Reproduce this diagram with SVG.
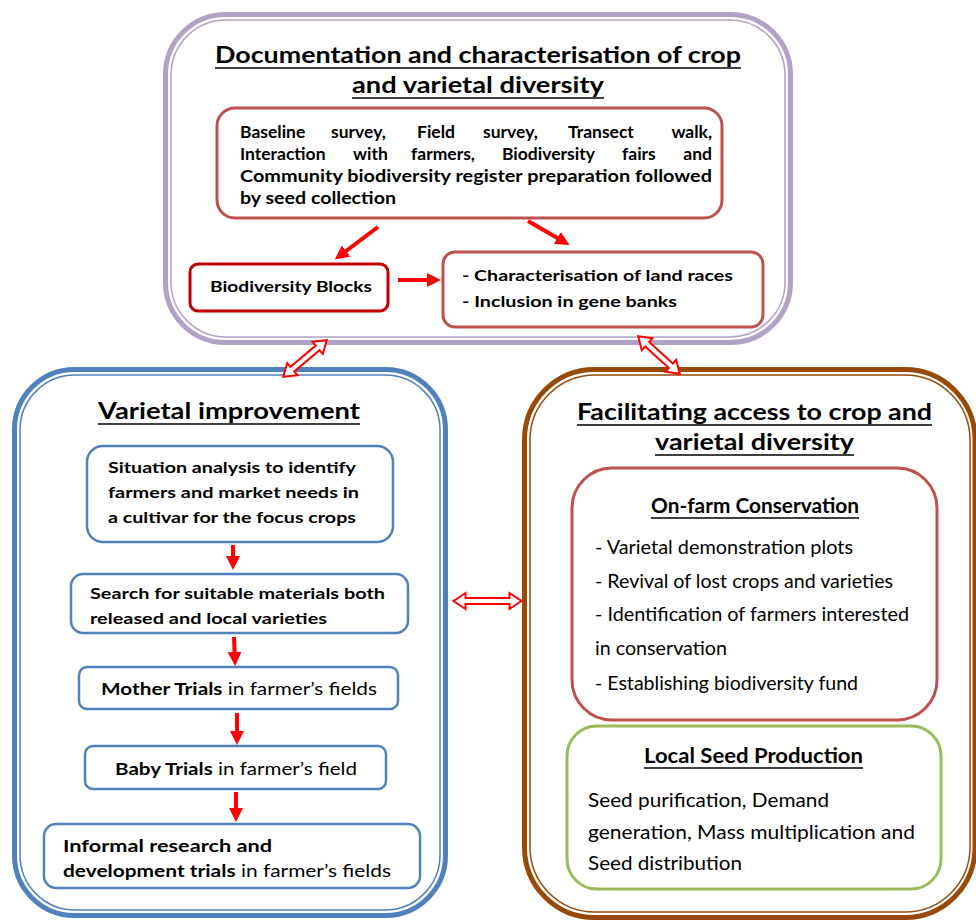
<svg xmlns="http://www.w3.org/2000/svg" width="976" height="921" viewBox="0 0 976 921">
<style>
text{font-family:Lato,"Open Sans","Liberation Sans",sans-serif;fill:#000}
.b{font-weight:bold}
.t{font-weight:bold;font-size:23px}
.s{font-size:16px;font-weight:bold}
.j{font-size:17.5px;font-weight:bold}
.r{font-size:20px}
.ul{stroke:#000;stroke-width:1.6}
.box{fill:#fff}
.arr{stroke:#ff0000;stroke-width:4;fill:none;marker-end:url(#ah)}
.dbl{fill:#fff;stroke:#ff0000;stroke-width:2;stroke-linejoin:miter}
</style>
<defs>
<marker id="ah" markerUnits="userSpaceOnUse" markerWidth="14" markerHeight="14" viewBox="0 0 14 14" refX="10" refY="7" orient="auto">
<path d="M0,0 L14,7 L0,14 Z" fill="#ff0000"/>
</marker>
</defs>
<rect width="976" height="921" fill="#fff"/>

<g id="top-panel">
<rect x="165.5" y="14.5" width="625" height="328" rx="60" fill="#fff" stroke="#b3a2c7" stroke-width="5"/>
<rect x="171" y="20" width="614" height="317" rx="55" fill="none" stroke="#b3a2c7" stroke-width="1.5"/>
<text class="t" x="215" y="63" textLength="526" lengthAdjust="spacingAndGlyphs">Documentation and characterisation of crop</text>
<line class="ul" x1="215" y1="68" x2="741" y2="68"/>
<text class="t" x="352" y="93" textLength="252" lengthAdjust="spacingAndGlyphs">and varietal diversity</text>
<line class="ul" x1="352" y1="98" x2="604" y2="98"/>
</g>

<g id="survey-box">
<rect class="box" x="217" y="108" width="505" height="110" rx="18" stroke="#c0504d" stroke-width="3"/>
<text class="j" y="138"><tspan x="240">Baseline</tspan><tspan x="331">survey,</tspan><tspan x="417">Field</tspan><tspan x="483">survey,</tspan><tspan x="568">Transect</tspan><tspan x="712" text-anchor="end">walk,</tspan></text>
<text class="j" y="160"><tspan x="240">Interaction</tspan><tspan x="353">with</tspan><tspan x="411">farmers,</tspan><tspan x="502">Biodiversity</tspan><tspan x="622">fairs</tspan><tspan x="712" text-anchor="end">and</tspan></text>
<text class="j" x="240" y="182" textLength="472" lengthAdjust="spacingAndGlyphs">Community biodiversity register preparation followed</text>
<text class="j" x="240" y="204" textLength="156" lengthAdjust="spacingAndGlyphs">by seed collection</text>
</g>

<g id="biodiversity-blocks">
<rect class="box" x="190" y="264" width="198" height="47" rx="8" stroke="#c00000" stroke-width="3"/>
<text class="s" x="210" y="292" textLength="162" lengthAdjust="spacingAndGlyphs">Biodiversity Blocks</text>
</g>

<g id="characterisation">
<rect class="box" x="443" y="252" width="320" height="75" rx="12" stroke="#c0504d" stroke-width="3"/>
<text class="s" x="462" y="281" textLength="271" lengthAdjust="spacingAndGlyphs">- Characterisation of land races</text>
<text class="s" x="462" y="307" textLength="215" lengthAdjust="spacingAndGlyphs">- Inclusion in gene banks</text>
</g>

<g id="left-panel">
<rect x="14.5" y="369.5" width="431" height="546" rx="60" fill="#fff" stroke="#4f81bd" stroke-width="5"/>
<rect x="20" y="375" width="420" height="535" rx="55" fill="none" stroke="#4f81bd" stroke-width="1.5"/>
<text class="b" font-size="22" x="98" y="419" textLength="262" lengthAdjust="spacingAndGlyphs">Varietal improvement</text>
<line class="ul" x1="98" y1="424" x2="360" y2="424"/>
</g>

<g id="situation">
<rect class="box" x="87" y="446" width="306" height="96" rx="16" stroke="#4f81bd" stroke-width="2.5"/>
<text class="s" font-size="17" x="108" y="473" textLength="248" lengthAdjust="spacingAndGlyphs">Situation analysis to identify</text>
<text class="s" font-size="17" x="108" y="498" textLength="251" lengthAdjust="spacingAndGlyphs">farmers and market needs in</text>
<text class="s" font-size="17" x="108" y="523" textLength="248" lengthAdjust="spacingAndGlyphs">a cultivar for the focus crops</text>
</g>

<g id="search">
<rect class="box" x="71" y="574" width="337" height="59" rx="12" stroke="#4f81bd" stroke-width="2.5"/>
<text class="s" font-size="17" x="90" y="599" textLength="295" lengthAdjust="spacingAndGlyphs">Search for suitable materials both</text>
<text class="s" font-size="17" x="90" y="624" textLength="237" lengthAdjust="spacingAndGlyphs">released and local varieties</text>
</g>

<g id="mother-trials">
<rect class="box" x="79" y="667" width="319" height="42" rx="8" stroke="#4f81bd" stroke-width="2.5"/>
<text font-size="17" x="101" y="695" textLength="276" lengthAdjust="spacingAndGlyphs"><tspan class="b">Mother Trials</tspan> in farmer’s fields</text>
</g>

<g id="baby-trials">
<rect class="box" x="85" y="746" width="301" height="43" rx="8" stroke="#4f81bd" stroke-width="2.5"/>
<text font-size="17" x="115" y="775" textLength="242" lengthAdjust="spacingAndGlyphs"><tspan class="b">Baby Trials</tspan> in farmer’s field</text>
</g>

<g id="informal-trials">
<rect class="box" x="44" y="824" width="376" height="64" rx="12" stroke="#4f81bd" stroke-width="2.5"/>
<text class="b" font-size="17" x="63" y="852" textLength="209" lengthAdjust="spacingAndGlyphs">Informal research and</text>
<text font-size="17" x="63" y="877" textLength="328" lengthAdjust="spacingAndGlyphs"><tspan class="b">development trials</tspan> in farmer’s fields</text>
</g>

<g id="right-panel">
<rect x="524.5" y="369.5" width="450.5" height="548" rx="70" fill="#fff" stroke="#984807" stroke-width="5"/>
<rect x="530" y="375" width="440" height="537" rx="65" fill="none" stroke="#984807" stroke-width="1.5"/>
<text class="b" font-size="22" x="577" y="420" textLength="355" lengthAdjust="spacingAndGlyphs">Facilitating access to crop and</text>
<line class="ul" x1="577" y1="425" x2="932" y2="425"/>
<text class="b" font-size="22" x="655" y="450" textLength="199" lengthAdjust="spacingAndGlyphs">varietal diversity</text>
<line class="ul" x1="655" y1="455" x2="854" y2="455"/>
</g>

<g id="on-farm">
<rect class="box" x="572" y="468" width="365" height="252" rx="40" stroke="#c0504d" stroke-width="3"/>
<text class="b" font-size="21" x="651" y="513" textLength="208" lengthAdjust="spacingAndGlyphs">On-farm Conservation</text>
<line class="ul" x1="651" y1="518" x2="859" y2="518"/>
<text class="r" x="595" y="554" textLength="258" lengthAdjust="spacingAndGlyphs">- Varietal demonstration plots</text>
<text class="r" x="595" y="588" textLength="298" lengthAdjust="spacingAndGlyphs">- Revival of lost crops and varieties</text>
<text class="r" x="595" y="621" textLength="314" lengthAdjust="spacingAndGlyphs">- Identification of farmers interested</text>
<text class="r" x="595" y="655" textLength="132" lengthAdjust="spacingAndGlyphs">in conservation</text>
<text class="r" x="595" y="690" textLength="263" lengthAdjust="spacingAndGlyphs">- Establishing biodiversity fund</text>
</g>

<g id="local-seed">
<rect class="box" x="567" y="726" width="374" height="163" rx="30" stroke="#9bbb59" stroke-width="3"/>
<text class="b" font-size="21" x="644" y="763" textLength="219" lengthAdjust="spacingAndGlyphs">Local Seed Production</text>
<line class="ul" x1="644" y1="768" x2="863" y2="768"/>
<text class="r" x="588" y="807" textLength="241" lengthAdjust="spacingAndGlyphs">Seed purification, Demand</text>
<text class="r" x="588" y="839" textLength="327" lengthAdjust="spacingAndGlyphs">generation, Mass multiplication and</text>
<text class="r" x="588" y="870" textLength="154" lengthAdjust="spacingAndGlyphs">Seed distribution</text>
</g>

<g id="connectors">
<line class="arr" x1="378" y1="227" x2="338" y2="257"/>
<line class="arr" x1="528" y1="221" x2="566" y2="243"/>
<line class="arr" x1="398" y1="280" x2="437" y2="280"/>
<line class="arr" x1="233" y1="545" x2="233" y2="566"/>
<line class="arr" x1="234" y1="637" x2="235" y2="662"/>
<line class="arr" x1="237" y1="713" x2="237" y2="741"/>
<line class="arr" x1="236" y1="792" x2="236" y2="818"/>
<path class="dbl" transform="translate(305,358.5) rotate(139.9)" d="M-28.5,0 L-16.5,-8 L-16.5,-3 L16.5,-3 L16.5,-8 L28.5,0 L16.5,8 L16.5,3 L-16.5,3 L-16.5,8 Z"/>
<path class="dbl" transform="translate(659,355) rotate(42.1)" d="M-28,0 L-16,-8 L-16,-3 L16,-3 L16,-8 L28,0 L16,8 L16,3 L-16,3 L-16,8 Z"/>
<path class="dbl" transform="translate(487.5,601)" d="M-34,0 L-22,-8 L-22,-3 L22,-3 L22,-8 L34,0 L22,8 L22,3 L-22,3 L-22,8 Z"/>
</g>
</svg>
